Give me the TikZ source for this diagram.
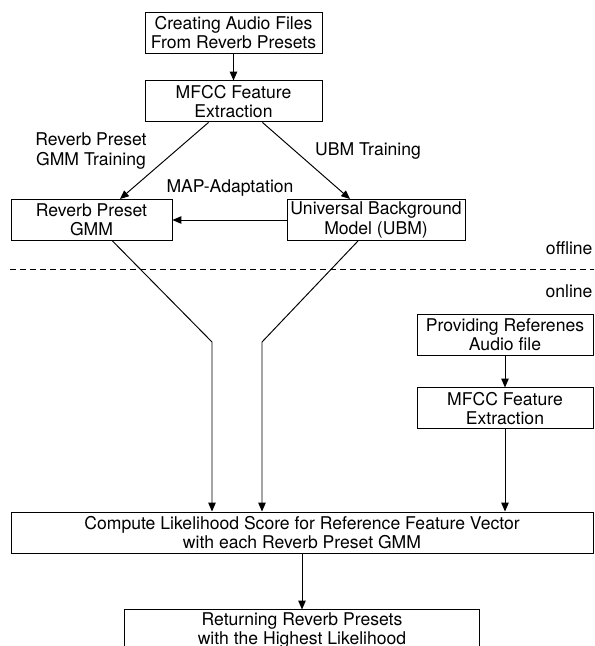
\documentclass[tikz,border=0pt]{standalone}
\usepackage{fontspec}
\setmainfont{TeX Gyre Heros}
\usetikzlibrary{arrows.meta, positioning}

\begin{document}
\begin{tikzpicture}
[->/.style={arrows={-Triangle[length=5pt,width=4.2pt]}},
   line width=0.55pt,
   stage/.style={shape=rectangle, draw, align=center, minimum height=0.82cm, inner sep=0pt, font=\fontsize{10}{10.9}\selectfont},
   lbl/.style={align=center, inner sep=0pt, font=\fontsize{10}{10.9}\selectfont}]
\useasboundingbox (0,0) rectangle (11.88,-12.92);
\clip (0,0) rectangle (11.88,-12.92);
% offline part
\node[stage, minimum width=3.54cm] (AF) at (4.67,-0.65) {Creating Audio Files\\From Reverb Presets};
\node[stage, minimum width=3.54cm] (MF1) [below=0.54 of AF] {MFCC Feature\\Extraction};
\node[stage, minimum width=3.22cm] (GMM) at (1.83,-4.4) {Reverb Preset\\GMM};
\node[stage, minimum width=3.56cm] (UBM) at (7.52,-4.4) {Universal Background\\Model (UBM)};
\node[lbl] (LGMM) at (1.82,-3.02) {Reverb Preset\\GMM Training};
\node[lbl] (LUBM) at (7.36,-3.02) {UBM Training};
\node[lbl] (LMAP) at (4.6,-3.76) {MAP-Adaptation};
\draw [->] (AF) to (MF1);
\draw [->] ([xshift=-0.5cm]MF1.south) to ([xshift=0.57cm]GMM.north);
\draw [->] ([xshift=0.58cm]MF1.south) to ([xshift=-0.52cm]UBM.north);
\draw [->] (UBM.west) to (GMM.east);
% separator
\coordinate (dashL) at (0.2,-5.38);
\coordinate (dashR) at (11.95,-5.38);
\draw [dash pattern=on 0.12cm off 0.08cm] (dashL) -- (dashR);
\node[lbl, anchor=east] (OFF) at (11.86,-4.96) {offline};
\node[lbl, anchor=east] (ON) at (11.86,-5.82) {online};
% online part
\node[stage, minimum width=3.52cm] (REF) at (10.1,-6.69) {Providing Referenes\\Audio file};
\node[stage, minimum width=3.52cm] (MF2) [below=0.64 of REF] {MFCC Feature\\Extraction};
\node[stage, minimum width=11.64cm] (SC) at (6.04,-10.65) {Compute Likelihood Score for Reference Feature Vector\\with each Reverb Preset GMM};
\node[stage, minimum width=7.1cm] (RET) [below=1.12 of SC] {Returning Reverb Presets\\with the Highest Likelihood};
\coordinate (bendL) at (4.24,-6.84);
\coordinate (bendR) at (5.24,-6.84);
\draw [->] ([xshift=0.42cm]GMM.south) -- (bendL) -- (bendL |- SC.north);
\draw [->] ([xshift=-0.36cm]UBM.south) -- (bendR) -- (bendR |- SC.north);
\draw [->] (REF) to (MF2);
\draw [->] (MF2) to (MF2 |- SC.north);
\draw [->] (SC) to (RET);
\end{tikzpicture}
\end{document}
